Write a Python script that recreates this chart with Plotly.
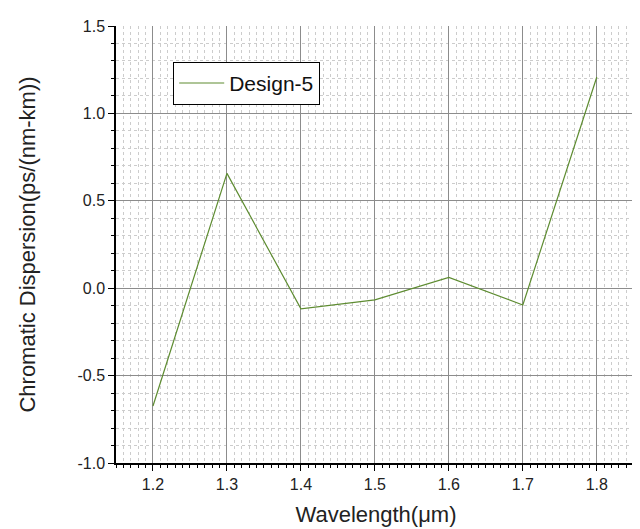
import plotly.graph_objects as go

wavelength = [1.2, 1.3, 1.4, 1.5, 1.6, 1.7, 1.8]
dispersion = [-0.674, 0.657, -0.118, -0.067, 0.062, -0.096, 1.208]
series_name = "Design-5"

fig = go.Figure()
fig.add_trace(go.Scatter(x=wavelength, y=dispersion, mode="lines", name=series_name,
                         line=dict(color="#5E8C31", width=1.2)))

font = "Liberation Sans, Arial, sans-serif"
fig.update_layout(
    width=640, height=529,
    margin=dict(l=108, r=12, t=10, b=74),
    paper_bgcolor="white", plot_bgcolor="white",
    font=dict(family=font, color="#222"),
    showlegend=True,
    legend=dict(x=0.11, y=0.918, xanchor="left", yanchor="top",
                bordercolor="black", borderwidth=1, bgcolor="white",
                font=dict(size=21, family=font, color="#111"),
                itemwidth=45, tracegroupgap=0),
    xaxis=dict(range=[1.15, 1.853], tickvals=[1.2, 1.3, 1.4, 1.5, 1.6, 1.7, 1.8],
               ticktext=["1.2", "1.3", "1.4", "1.5", "1.6", "1.7", "1.8"],
               showline=True, linecolor="black", linewidth=1.5,
               ticks="outside", ticklen=6, tickcolor="black",
               showgrid=True, gridcolor="#8c8c8c", gridwidth=1,
               zeroline=False, tickfont=dict(size=16),
               minor=dict(dtick=0.01, tick0=1.2, ticks="outside", ticklen=3, tickcolor="black",
                          showgrid=True, gridcolor="#cccccc", griddash="dot", gridwidth=1),
               title=dict(text="Wavelength(μm)", font=dict(size=22), standoff=15)),
    yaxis=dict(range=[-1.0, 1.5], tickvals=[-1.0, -0.5, 0.0, 0.5, 1.0, 1.5],
               ticktext=["-1.0", "-0.5", "0.0", "0.5", "1.0", "1.5"],
               showline=True, linecolor="black", linewidth=1.5,
               ticks="outside", ticklen=6, tickcolor="black",
               showgrid=True, gridcolor="#8c8c8c", gridwidth=1,
               zeroline=False, tickfont=dict(size=16),
               minor=dict(dtick=0.1, tick0=0, ticks="outside", ticklen=3, tickcolor="black",
                          showgrid=True, gridcolor="#cccccc", griddash="dot", gridwidth=1),
               title=dict(text="Chromatic Dispersion(ps/(nm-km))", font=dict(size=22), standoff=36)),
)

fig.write_html("out.html")
